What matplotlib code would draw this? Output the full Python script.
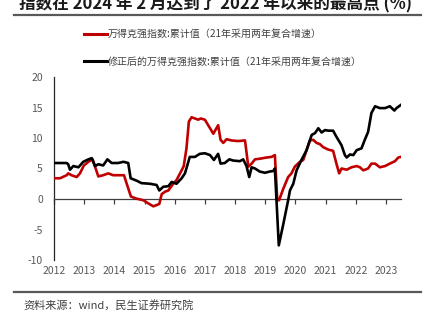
import matplotlib
matplotlib.use("Agg")
import matplotlib.pyplot as plt
from matplotlib.lines import Line2D

plt.rcParams['font.family'] = ['Noto Sans CJK SC', 'DejaVu Sans']

title = "指数在 2024 年 2 月达到了 2022 年以来的最高点 (%)"
source = "资料来源：wind，民生证券研究院"
label_red = "万得克强指数:累计值（21年采用两年复合增速）"
label_black = "修正后的万得克强指数:累计值（21年采用两年复合增速）"

years = list(range(2012, 2024))
year_labels = [str(y) for y in years]
y_ticks = [-10, -5, 0, 5, 10, 15, 20]

black_x = [2012.03, 2012.42, 2012.47, 2012.53, 2012.64, 2012.81, 2012.97, 2013.14, 2013.25,
           2013.36, 2013.47, 2013.63, 2013.77, 2013.91, 2014.13, 2014.30, 2014.46, 2014.54,
           2014.74, 2014.90, 2015.18, 2015.40, 2015.49, 2015.62, 2015.79, 2015.90, 2016.06,
           2016.23, 2016.34, 2016.50, 2016.67, 2016.83, 2017.00, 2017.17, 2017.30, 2017.44,
           2017.52, 2017.66, 2017.81, 2017.94, 2018.16, 2018.27, 2018.38, 2018.47, 2018.55,
           2018.66, 2018.82, 2018.99, 2019.15, 2019.27, 2019.32, 2019.45, 2019.60, 2019.76,
           2019.82, 2019.93, 2020.04, 2020.20, 2020.37, 2020.54, 2020.65, 2020.76, 2020.87,
           2020.98, 2021.09, 2021.25, 2021.36, 2021.53, 2021.64, 2021.70, 2021.81, 2021.92,
           2022.03, 2022.19, 2022.30, 2022.41, 2022.52, 2022.64, 2022.80, 2022.97, 2023.13,
           2023.28, 2023.35, 2023.49]
black_y = [5.9, 5.9, 5.7, 4.8, 5.4, 5.2, 6.1, 6.5, 6.7,
           5.4, 5.7, 5.5, 6.5, 5.9, 5.9, 6.1, 5.9, 3.4,
           3.0, 2.6, 2.5, 2.3, 1.4, 2.0, 2.1, 2.8, 2.5,
           3.4, 4.2, 6.9, 6.9, 7.4, 7.5, 7.2, 6.4, 7.4,
           5.8, 5.9, 6.5, 6.3, 6.2, 6.5, 5.4, 3.6, 5.2,
           5.0, 4.5, 4.3, 4.5, 4.6, 5.0, -7.6, -4.1, -0.2,
           1.4, 2.5, 4.7, 6.4, 8.0, 10.5, 10.8, 11.6, 10.9,
           11.3, 11.2, 11.2, 10.2, 8.8, 7.2, 6.8, 7.3, 7.2,
           8.0, 8.3, 9.7, 11.0, 14.1, 15.2, 14.9, 14.9, 15.2,
           14.5, 14.9, 15.4]

red_x = [2012.03, 2012.20, 2012.42, 2012.47, 2012.58, 2012.75, 2012.86, 2012.99, 2013.14,
         2013.28, 2013.36, 2013.47, 2013.63, 2013.80, 2013.96, 2014.13, 2014.32, 2014.41,
         2014.55, 2014.74, 2014.96, 2015.12, 2015.29, 2015.40, 2015.49, 2015.57, 2015.68,
         2015.79, 2015.95, 2016.06, 2016.23, 2016.30, 2016.39, 2016.47, 2016.56, 2016.67,
         2016.78, 2016.86, 2017.00, 2017.11, 2017.28, 2017.44, 2017.52, 2017.61, 2017.72,
         2017.88, 2018.10, 2018.33, 2018.44, 2018.55, 2018.66, 2018.82, 2019.04, 2019.21,
         2019.32, 2019.40, 2019.46, 2019.60, 2019.76, 2019.87, 2019.98, 2020.15, 2020.26,
         2020.37, 2020.48, 2020.59, 2020.70, 2020.81, 2020.92, 2021.09, 2021.25, 2021.36,
         2021.45, 2021.53, 2021.70, 2021.86, 2022.03, 2022.14, 2022.25, 2022.41, 2022.52,
         2022.64, 2022.80, 2022.97, 2023.13, 2023.30, 2023.41, 2023.49]
red_y = [3.4, 3.4, 3.9, 4.2, 3.9, 3.6, 4.2, 5.5, 6.1,
         6.5, 5.3, 3.7, 3.9, 4.2, 3.9, 3.9, 3.9, 2.5,
         0.4, 0.05, -0.2, -0.7, -1.2, -1.0, -0.8, 0.8, 1.2,
         1.4, 2.5, 3.1, 4.7, 5.4, 8.3, 12.7, 13.4, 13.2,
         13.0, 13.2, 13.0, 12.1, 10.7, 12.1, 9.7, 9.2, 9.8,
         9.6, 9.5, 9.6, 5.3, 5.8, 6.5, 6.6, 6.8, 6.9,
         7.2, -0.2, -0.2, 1.7, 3.6, 4.2, 5.3, 6.1, 6.4,
         8.0, 9.6, 9.7, 9.2, 9.0, 8.5, 8.1, 7.9, 5.8,
         4.2, 5.0, 4.8, 5.2, 5.4, 5.2, 4.7, 5.0, 5.8,
         5.8, 5.2, 5.4, 5.8, 6.2, 6.8, 6.9]

W, H = 435, 329
fig = plt.figure(figsize=(W / 100, H / 100), dpi=100)
ax = fig.add_axes([54 / W, 1 - 260 / H, 347 / W, 183 / H])

red_c = '#C00000'
ax.plot(red_x, red_y, color=red_c, lw=1.9, solid_joinstyle='round', zorder=3)
ax.plot(black_x, black_y, color='black', lw=1.9, solid_joinstyle='round', zorder=4)

ax.set_xlim(2012, 2023.5)
ax.set_ylim(-10, 20)
for s in ['top', 'right']:
    ax.spines[s].set_visible(False)
ax.spines['bottom'].set_position(('data', 0))
ax.spines['bottom'].set_color('#404040')
ax.spines['bottom'].set_linewidth(0.9)
ax.spines['left'].set_color('#262626')
ax.spines['left'].set_linewidth(0.9)

ax.set_xticks(years)
ax.set_xticklabels(year_labels)
ax.set_yticks(y_ticks)
ax.set_yticklabels([str(v) for v in y_ticks])
ax.tick_params(axis='x', direction='out', length=3.5, width=0.9, color='#404040',
               labelsize=7.5, labelcolor='#595959', pad=45)
ax.tick_params(axis='y', length=0, labelsize=7.5, labelcolor='#595959', pad=8)

handles = [Line2D([], [], color=red_c, lw=2.2), Line2D([], [], color='black', lw=2.2)]
fig.legend(handles, [label_red, label_black], loc='upper left',
           bbox_to_anchor=(84 / W, 1 - 29 / H), frameon=False, fontsize=7.2,
           handlelength=2.3, handletextpad=0.1, labelspacing=1.75, labelcolor='#404040',
           borderaxespad=0, borderpad=0)

fig.text(216 / W, 1 - 13 / H, title, ha='center', va='bottom', fontsize=12,
         fontweight='bold', color='#1a1a1a')
fig.add_artist(Line2D([14 / W, 421 / W], [1 - 14.5 / H, 1 - 14.5 / H], color='#595959', lw=1.6))
fig.add_artist(Line2D([14 / W, 421 / W], [1 - 292 / H, 1 - 292 / H], color='#595959', lw=1.6))
fig.text(23 / W, 1 - 305 / H, source, ha='left', va='center', fontsize=8, color='#404040')

fig.savefig('out.png', dpi=100)
